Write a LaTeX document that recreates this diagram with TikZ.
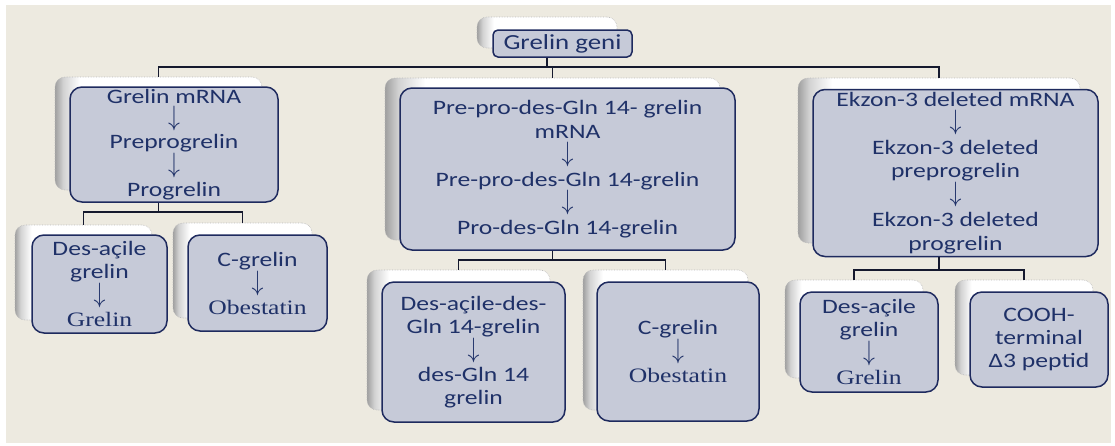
\documentclass[tikz,border=0pt]{standalone}
\usepackage{graphicx}
\usepackage{fontspec}
\setmainfont{Carlito}[FakeStretch=1.25]
\newfontfamily\serifface{Liberation Serif}[FakeStretch=1.25]
\definecolor{bgbeige}{HTML}{EDEAE0}
\definecolor{boxfill}{HTML}{C6CAD8}
\definecolor{boxline}{HTML}{1E2A5E}
\definecolor{txt}{HTML}{1F3168}
\definecolor{conncol}{HTML}{15192E}
\pgfdeclarehorizontalshading{cardshade}{100bp}{color(0bp)=(gray!75); color(25bp)=(gray!75); color(27bp)=(gray!35); color(31bp)=(white); color(100bp)=(white)}
\newcommand\dnarrow{\raisebox{1pt}{\scalebox{1.15}[1.35]{$\downarrow$}}}
\tikzset{
  card/.style={shade, shading=cardshade, rounded corners=10pt, draw=gray!55, densely dotted, line width=0.6pt, inner sep=0pt},
  front/.style={rounded corners=12pt, fill=boxfill, draw=boxline, line width=1.5pt, text=txt, align=center, inner sep=2pt, font=\fontsize{20.5}{23}\selectfont},
  conn/.style={draw=conncol, line width=1.7pt},
}
\begin{document}
\begin{tikzpicture}[x=1pt,y=-1pt]
\useasboundingbox (0,0) rectangle (1115,445);
\fill[white] (0,0) rectangle (1115,445);
\fill[bgbeige] (6,5) rectangle (1111,443);

\coordinate (busM) at (0,67);
\coordinate (busL) at (0,212);
\coordinate (busC) at (0,260);
\coordinate (busR) at (0,270);

% top
\node[card, minimum width=140pt, minimum height=31pt] (topbg) at (547,32.5) {};
\node[front, rounded corners=5pt, minimum width=139pt, minimum height=27pt, inner sep=0pt, font=\fontsize{21.5}{23}\selectfont] (top) at (562.5,43.5) {Grelin geni};

% left branch
\node[card, minimum width=207pt, minimum height=113pt] (lmbg) at (158.5,133.5) {};
\node[front, minimum width=208pt, minimum height=115pt, font=\fontsize{20.5}{22.5}\selectfont] (lm) at (174,144.5) {Grelin mRNA\\\dnarrow\\Preprogrelin\\\dnarrow\\Progrelin};

\node[card, minimum width=137pt, minimum height=95pt] (lc1bg) at (83.5,272.5) {};
\node[front, minimum width=135pt, minimum height=98pt] (lc1) at (99.5,284) {Des-açile\\grelin\\\dnarrow\\{\serifface Grelin}};
\node[card, minimum width=139pt, minimum height=95pt] (lc2bg) at (242.5,270.5) {};
\node[front, minimum width=139pt, minimum height=96pt] (lc2) at (257.5,283) {C-grelin\\\dnarrow\\{\serifface Obestatin}};

% center branch
\node[card, minimum width=335pt, minimum height=162pt] (cmbg) at (552.5,159) {};
\node[front, minimum width=335pt, minimum height=162pt, font=\fontsize{20.5}{24}\selectfont] (cm) at (567.5,169) {Pre-pro-des-Gln 14- grelin\\mRNA\\\dnarrow\\Pre-pro-des-Gln 14-grelin\\\dnarrow\\Pro-des-Gln 14-grelin};

\node[card, minimum width=183pt, minimum height=140pt] (cc1bg) at (458.5,340) {};
\node[front, minimum width=183pt, minimum height=140pt] (cc1) at (473.5,352) {Des-açile-des-\\Gln 14-grelin\\\dnarrow\\des-Gln 14\\grelin};
\node[card, minimum width=165pt, minimum height=140pt] (cc2bg) at (665.5,340) {};
\node[front, minimum width=162pt, minimum height=139pt] (cc2) at (678,351.5) {C-grelin\\\dnarrow\\{\serifface Obestatin}};

% right branch
\node[card, minimum width=282pt, minimum height=165pt] (rmbg) at (939,160.5) {};
\node[front, minimum width=285pt, minimum height=167pt, font=\fontsize{20.5}{23.7}\selectfont] (rm) at (955.5,173) {Ekzon-3 deleted mRNA\\\dnarrow\\Ekzon-3 deleted\\preprogrelin\\\dnarrow\\Ekzon-3 deleted\\progrelin};

\node[card, minimum width=138pt, minimum height=98pt] (rc1bg) at (854,329) {};
\node[front, minimum width=138pt, minimum height=100pt] (rc1) at (869,342) {Des-açile\\grelin\\\dnarrow\\{\serifface Grelin}};
\node[card, minimum width=138pt, minimum height=95pt] (rc2bg) at (1024,327.5) {};
\node[front, minimum width=138pt, minimum height=95pt] (rc2) at (1039,339.5) {COOH-\\terminal\\Δ3 peptid};

% connectors
\draw[conn] (topbg.center |- top.south) -- (topbg.center |- busM);
\draw[conn] (lmbg.north) -- (lmbg.north |- busM) -- (rmbg.north |- busM) -- (rmbg.north);
\draw[conn] (cmbg.north |- busM) -- (cmbg.north);

\draw[conn] (lmbg.center |- lm.south) -- (lmbg.center |- busL);
\draw[conn] (lc1bg.north) -- (lc1bg.north |- busL) -- (lc2bg.north |- busL) -- (lc2bg.north);

\draw[conn] (cmbg.center |- cm.south) -- (cmbg.center |- busC);
\draw[conn] (cc1bg.north) -- (cc1bg.north |- busC) -- (cc2bg.north |- busC) -- (cc2bg.north);

\draw[conn] (rmbg.center |- rm.south) -- (rmbg.center |- busR);
\draw[conn] (rc1bg.north) -- (rc1bg.north |- busR) -- (rc2bg.north |- busR) -- (rc2bg.north);
\end{tikzpicture}
\end{document}
